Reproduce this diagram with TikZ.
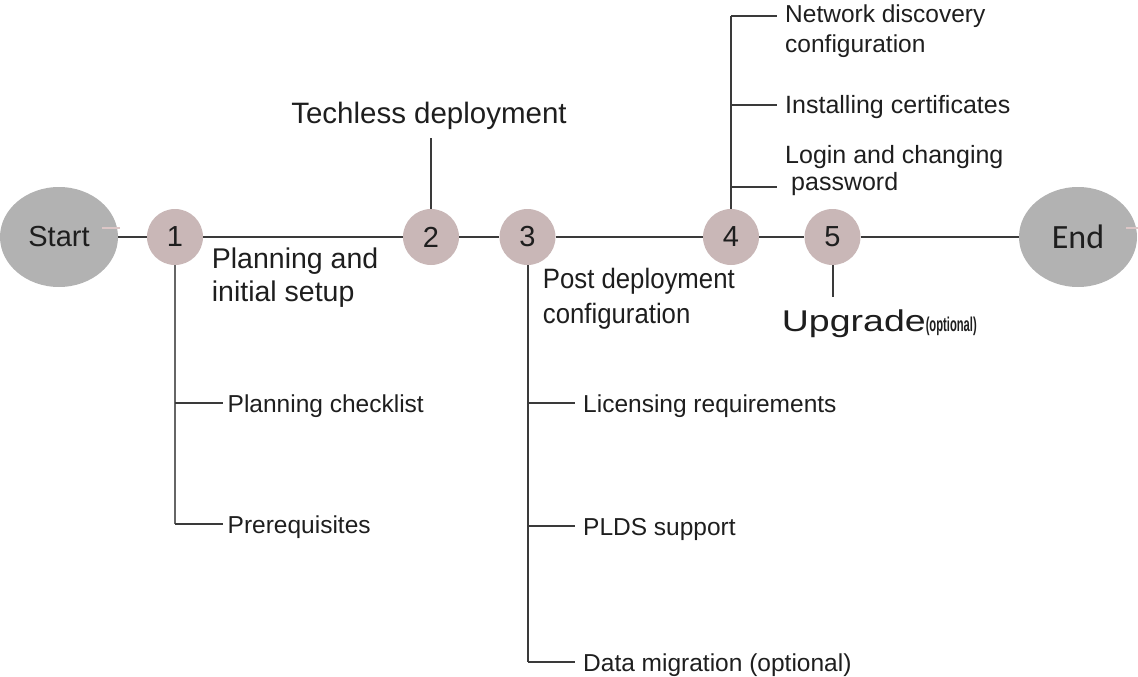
\documentclass[tikz,border=0pt]{standalone}
\usepackage{fontspec}
\setmainfont{Liberation Sans}
\newfontfamily\upf[FakeStretch=1.25]{Liberation Sans}
\newfontfamily\optf[FakeStretch=0.56]{Liberation Sans}
\newfontfamily\postf[FakeStretch=0.92]{Liberation Sans}
\newfontfamily\endf{Carlito}
\usetikzlibrary{shapes.geometric}
\definecolor{lnc}{HTML}{3A3A3A}
\definecolor{trunkc}{HTML}{666666}
\definecolor{stepfill}{HTML}{C9B7B7}
\definecolor{endfill}{HTML}{B2B2B2}
\definecolor{stubc}{HTML}{DCC6C6}
\definecolor{txt}{HTML}{1E1E1E}
\begin{document}
\begin{tikzpicture}[x=1pt,y=-1pt,
  ln/.style={draw=lnc,line width=2pt},
  trunkgray/.style={draw=trunkc,line width=2.6pt},
  stub/.style={draw=stubc,line width=1.5pt},
  stepc/.style={circle,fill=stepfill,minimum size=56pt,inner sep=0pt,text=txt,font=\fontsize{29}{29}\selectfont},
  term/.style={ellipse,fill=endfill,minimum width=118pt,minimum height=100pt,inner sep=0pt,text=txt},
  small/.style={inner sep=0pt,anchor=base west,text=txt,font=\fontsize{24.5}{24}\selectfont,align=left},
  big/.style={inner sep=0pt,anchor=base west,text=txt,align=left}]
\useasboundingbox (0,0) rectangle (1138,677);

% main nodes
\node[term,font=\fontsize{29}{29}\selectfont] (start) at (59,237) {Start};
\node[term,font=\endf\fontsize{34}{34}\selectfont] (end) at (1078,237) {End};
\node[stepc] (c1) at (175,237) {1};
\node[stepc] (c2) at (431,237) {2};
\node[stepc] (c3) at (527.5,237) {3};
\node[stepc] (c4) at (731,237) {4};
\node[stepc] (c5) at (832.5,237) {5};

% faint stubs
\coordinate (sa) at (102,228); \coordinate (sb) at (120,228);
\coordinate (ea) at (1126,228); \coordinate (eb) at (1138,228);
\draw[stub] (sa) -- (sb);
\draw[stub] (ea) -- (eb);

% main line
\draw[ln] (start) -- (c1);
\draw[ln] (c1) -- (c2);
\draw[ln] (c2) -- (c3);
\draw[ln] (c3) -- (c4);
\draw[ln] (c4) -- (c5);
\draw[ln] (c5) -- (end);

% step 1
\coordinate (k11) at (175,403); \coordinate (k12) at (175,524);
\coordinate (e11) at (223,403); \coordinate (e12) at (223,524);
\draw[trunkgray] (c1) -- (k12);
\draw[ln] (k11) -- (e11);
\draw[ln] (k12) -- (e12);
\node[small] (t11) at (227.5,412) {Planning checklist};
\node[small] (t12) at (227.5,533) {Prerequisites};
\node[big,font=\fontsize{28.5}{33.4}\selectfont] (t1) at (211.7,301.7) {Planning and\\initial setup};

% step 2
\coordinate (k2) at (431,138);
\draw[ln] (c2) -- (k2);
\node[big,anchor=base,font=\fontsize{29.5}{30}\selectfont] (t2) at (429,123) {Techless deployment};

% step 3
\coordinate (k31) at (527.5,403); \coordinate (k32) at (527.5,526); \coordinate (k33) at (527.5,662);
\coordinate (e31) at (575,403); \coordinate (e32) at (575,526); \coordinate (e33) at (575,662);
\draw[ln] (c3) -- (k33);
\draw[ln] (k31) -- (e31);
\draw[ln] (k32) -- (e32);
\draw[ln] (k33) -- (e33);
\node[small] (t31) at (583,412) {Licensing requirements};
\node[small] (t32) at (583,535) {PLDS support};
\node[small] (t33) at (583,671) {Data migration (optional)};
\node[big,font=\postf\fontsize{28}{34.7}\selectfont] (t3) at (542.7,323) {Post deployment\\configuration};

% step 4
\coordinate (k41) at (731,16); \coordinate (k42) at (731,105); \coordinate (k43) at (731,187);
\coordinate (e41) at (777,16); \coordinate (e42) at (777,105); \coordinate (e43) at (777,187);
\draw[ln] (c4) -- (k41);
\draw[ln] (k41) -- (e41);
\draw[ln] (k42) -- (e42);
\draw[ln] (k43) -- (e43);
\node[small,font=\fontsize{24.5}{30}\selectfont] (t41) at (785,53) {Network discovery\\configuration};
\node[small,font=\fontsize{25}{24}\selectfont] (t42) at (785,113) {Installing certificates};
\node[small,font=\fontsize{25}{27}\selectfont] (t43) at (785,190) {Login and changing\\\hspace*{6pt}password};

% step 5
\coordinate (k5) at (832.5,297);
\draw[ln] (c5) -- (k5);
\node[big] (t5) at (781.7,331.7) {{\upf\fontsize{30}{30}\selectfont Upgrade}{\optf\bfseries\fontsize{20}{20}\selectfont(optional)}};
\end{tikzpicture}
\end{document}
